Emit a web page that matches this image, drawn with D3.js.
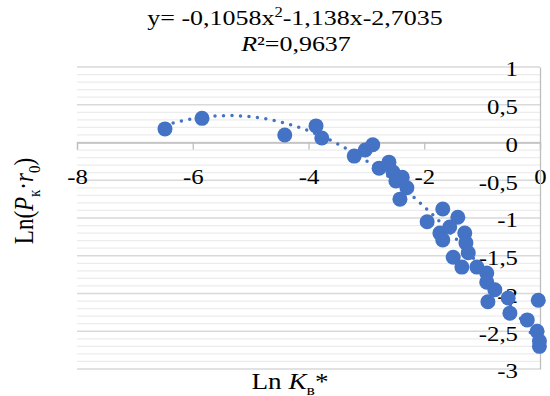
<!DOCTYPE html>
<html>
<head>
<meta charset="utf-8">
<style>
  body { margin: 0; background: #fff; }
  svg text { font-family: "Liberation Serif", "Times New Roman", serif; fill: #000; }
</style>
</head>
<body>
<div id="chart"></div>
<script src="https://d3js.org/d3.v7.min.js"></script>
<script>
// points: Ln K_в* and Ln(P_к·r0)
var lnK = [-6.48, -5.84, -4.41, -3.87, -3.77, -3.21, -3.02, -2.89, -2.78, -2.61,
           -2.54, -2.49, -2.38, -2.30, -2.42, -1.95, -1.68, -1.42, -1.73, -1.56,
           -1.30, -1.68, -1.28, -1.50, -1.35, -1.24, -1.09, -0.92, -0.92, -0.78,
           -0.90, -0.55, -0.52, -0.03, -0.22, -0.05, -0.01, -0.01];
var lnP = [0.18, 0.32, 0.10, 0.22, 0.06, -0.18, -0.10, -0.03, -0.34, -0.26,
           -0.39, -0.51, -0.46, -0.60, -0.75, -1.05, -0.88, -0.99, -1.20, -1.12,
           -1.20, -1.29, -1.33, -1.52, -1.65, -1.46, -1.65, -1.73, -1.85, -1.95,
           -2.11, -2.06, -2.26, -2.09, -2.35, -2.50, -2.63, -2.70];

// polynomial trend line (coefficients from the chart label)
var trendCoef = [-0.1058, -1.138, -2.7035];
var trendRange = [-6.48, 0];

var xTicks = [-8, -6, -4, -2, 0];
var yTicks = [1, 0.5, 0, -0.5, -1, -1.5, -2, -2.5, -3];
var yTickLabels = ["1", "0,5", "0", "-0,5", "-1", "-1,5", "-2", "-2,5", "-3"];

var width = 550, height = 396;
var sx = 1.18; // text in the picture is a bit wider than plain Times
var svg = d3.select("#chart").append("svg")
    .attr("width", width).attr("height", height);

var x = d3.scaleLinear().domain([-8, 0]).range([77, 540]);
var y = d3.scaleLinear().domain([-3, 1]).range([369, 67]);

// minor gridlines every 0.1
var minor = d3.range(-30, 11).map(function (d) { return d / 10; })
    .filter(function (d) { return Math.abs(d * 2 - Math.round(d * 2)) > 1e-6; });
svg.append("g").selectAll("line")
    .data(minor)
    .enter().append("line")
    .attr("x1", x(-8)).attr("x2", x(0))
    .attr("y1", function (d) { return y(d); })
    .attr("y2", function (d) { return y(d); })
    .attr("stroke", "#ececec").attr("stroke-width", 1.3);

// major gridlines
svg.append("g").selectAll("line")
    .data(yTicks)
    .enter().append("line")
    .attr("x1", x(-8)).attr("x2", x(0))
    .attr("y1", function (d) { return y(d); })
    .attr("y2", function (d) { return y(d); })
    .attr("stroke", "#d9d9d9").attr("stroke-width", 1.3);

// x axis crosses at y = 0
var xAxis = svg.append("g")
    .attr("transform", "translate(0," + y(0) + ")")
    .call(d3.axisBottom(x).tickValues(xTicks).tickSize(7).tickPadding(20)
        .tickFormat(function (d) { return String(d); }));
xAxis.select(".domain").attr("stroke", "#bfbfbf").attr("stroke-width", 1.3);
xAxis.selectAll(".tick line").attr("stroke", "#bfbfbf").attr("stroke-width", 1.3);
xAxis.selectAll("text").style("font-size", "21px")
    .attr("transform", "scale(" + sx + ",1)");

// y axis at x = 0 (right edge), labels on its left
var yAxis = svg.append("g")
    .attr("transform", "translate(" + x(0) + ",0)")
    .call(d3.axisLeft(y).tickValues(yTicks).tickSize(0).tickPadding(22 / sx)
        .tickFormat(function (d, i) { return yTickLabels[i]; }));
yAxis.select(".domain").attr("stroke", "#bfbfbf").attr("stroke-width", 1.3);
yAxis.selectAll("text").style("font-size", "21px").attr("dy", "0.42em")
    .attr("transform", "scale(" + sx + ",1)");

// trend line
var trendX = d3.range(trendRange[0], trendRange[1] + 0.001, 0.05);
var poly = function (v) { return trendCoef[0] * v * v + trendCoef[1] * v + trendCoef[2]; };
svg.append("path")
    .datum(trendX)
    .attr("d", d3.line().x(function (d) { return x(d); }).y(function (d) { return y(poly(d)); }))
    .attr("fill", "none")
    .attr("stroke", "#4472c4")
    .attr("stroke-width", 3.5)
    .attr("stroke-linecap", "round")
    .attr("stroke-dasharray", "0 8.5");

// points
svg.append("g").selectAll("circle")
    .data(lnK)
    .enter().append("circle")
    .attr("cx", function (d) { return x(d); })
    .attr("cy", function (d, i) { return y(lnP[i]); })
    .attr("r", 7.5)
    .attr("fill", "#4472c4");

// title
var title = svg.append("text").attr("text-anchor", "middle").style("font-size", "22px")
    .attr("transform", "translate(295,25) scale(" + sx + ",1)");
title.append("tspan").text("y= -0,1058x");
title.append("tspan").attr("dy", -8).style("font-size", "14px").text("2");
title.append("tspan").attr("dy", 8).text("-1,138x-2,7035");
var r2 = svg.append("text").attr("text-anchor", "middle").style("font-size", "22px")
    .attr("transform", "translate(296,51) scale(" + sx + ",1)");
r2.append("tspan").style("font-style", "italic").text("R");
r2.append("tspan").text("²=0,9637");

// y axis title
var yt = svg.append("text")
    .attr("transform", "translate(33,201) scale(" + sx + ",1) rotate(-90)")
    .attr("text-anchor", "middle").style("font-size", "23px");
yt.append("tspan").text("Ln(");
yt.append("tspan").style("font-style", "italic").text("P");
yt.append("tspan").attr("dy", 6).style("font-size", "15px").text("к");
yt.append("tspan").attr("dy", -6).text("·");
yt.append("tspan").style("font-style", "italic").text("r");
yt.append("tspan").attr("dy", 6).style("font-size", "15px").text("0");
yt.append("tspan").attr("dy", -6).text(")");

// x axis title
var xt = svg.append("text").attr("text-anchor", "middle").style("font-size", "23px")
    .attr("transform", "translate(290,389) scale(" + sx + ",1)");
xt.append("tspan").text("Ln ");
xt.append("tspan").style("font-style", "italic").text("K");
xt.append("tspan").attr("dy", 6).style("font-size", "15px").text("в");
xt.append("tspan").attr("dy", -6).text("*");
</script>
</body>
</html>
